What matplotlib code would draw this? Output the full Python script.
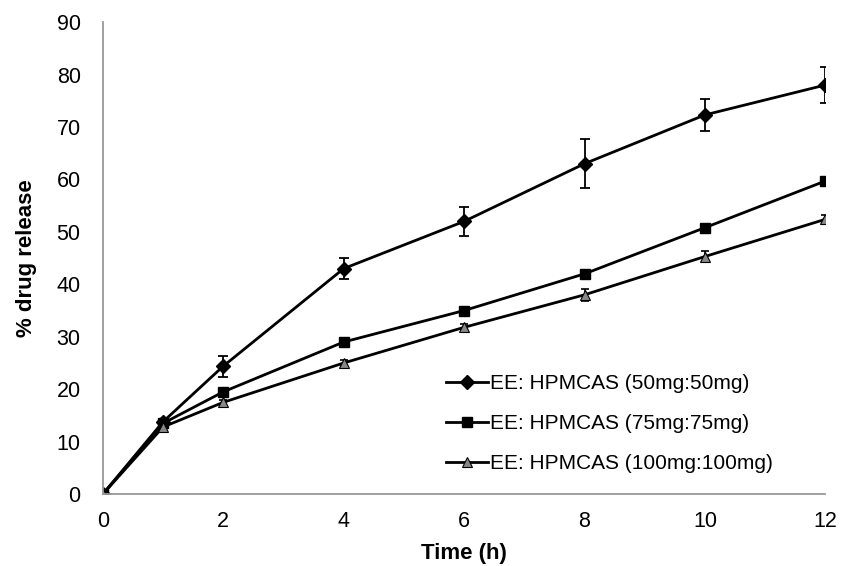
import matplotlib
matplotlib.use('Agg')
import matplotlib.pyplot as plt

plt.rcParams['font.family'] = ['Liberation Sans', 'DejaVu Sans']

# time points (h)
time = [0, 1, 2, 4, 6, 8, 10, 12]

# % drug release
rel_50 = [0, 13.8, 24.4, 43.0, 52.0, 63.0, 72.3, 78.0]
err_50 = [0, 0.5, 2.0, 2.0, 2.7, 4.7, 3.0, 3.5]
rel_75 = [0, 13.5, 19.5, 29.0, 35.0, 42.0, 50.8, 59.7]
err_75 = [0, 0.4, 0.4, 0.5, 0.5, 0.5, 0.6, 0.6]
rel_100 = [0, 12.8, 17.5, 25.0, 31.8, 38.0, 45.3, 52.4]
err_100 = [0, 0.8, 0.5, 0.6, 0.6, 1.2, 1.0, 0.8]

labels = ['EE: HPMCAS (50mg:50mg)', 'EE: HPMCAS (75mg:75mg)', 'EE: HPMCAS (100mg:100mg)']

fig = plt.figure(figsize=(8.5, 5.66), dpi=100)
ax = fig.add_axes([0.121, 0.127, 0.85, 0.834])

# error bars first, lines+markers on top
ax.errorbar(time, rel_50, yerr=err_50, fmt='none', ecolor='black', capsize=3.5, elinewidth=1.3, capthick=1.3)
ax.errorbar(time, rel_75, yerr=err_75, fmt='none', ecolor='black', capsize=3, elinewidth=1.2, capthick=1.2)
ax.errorbar(time, rel_100, yerr=err_100, fmt='none', ecolor='black', capsize=3, elinewidth=1.2, capthick=1.2)

ax.plot(time, rel_50, color='black', lw=2.0, marker='D', ms=7, mfc='black', mec='black', label=labels[0])
ax.plot(time, rel_75, color='black', lw=2.0, marker='s', ms=6.5, mfc='black', mec='black', label=labels[1])
ax.plot(time, rel_100, color='black', lw=2.0, marker='^', ms=6.5, mfc='#888888', mec='black', mew=0.8,
        label=labels[2])

ax.set_xlim(0, 12)
ax.set_ylim(0, 90)
ax.set_xticks(range(0, 13, 2))
ax.set_yticks(range(0, 91, 10))
ax.tick_params(length=0, labelsize=15.5)
ax.tick_params(axis='y', pad=16)
ax.tick_params(axis='x', pad=12)

for s in ['top', 'right']:
    ax.spines[s].set_visible(False)
for s in ['left', 'bottom']:
    ax.spines[s].set_color('#999999')
    ax.spines[s].set_linewidth(1.3)

ax.set_xlabel('Time (h)', fontsize=16, fontweight='bold', labelpad=8)
ax.set_ylabel('% drug release', fontsize=16, fontweight='bold', labelpad=14)

leg = ax.legend(loc='lower left', bbox_to_anchor=(0.449, 0.005), frameon=False,
                fontsize=15, labelspacing=1.0, handlelength=2.0, handletextpad=0.1)

fig.savefig('out.png', dpi=100)
